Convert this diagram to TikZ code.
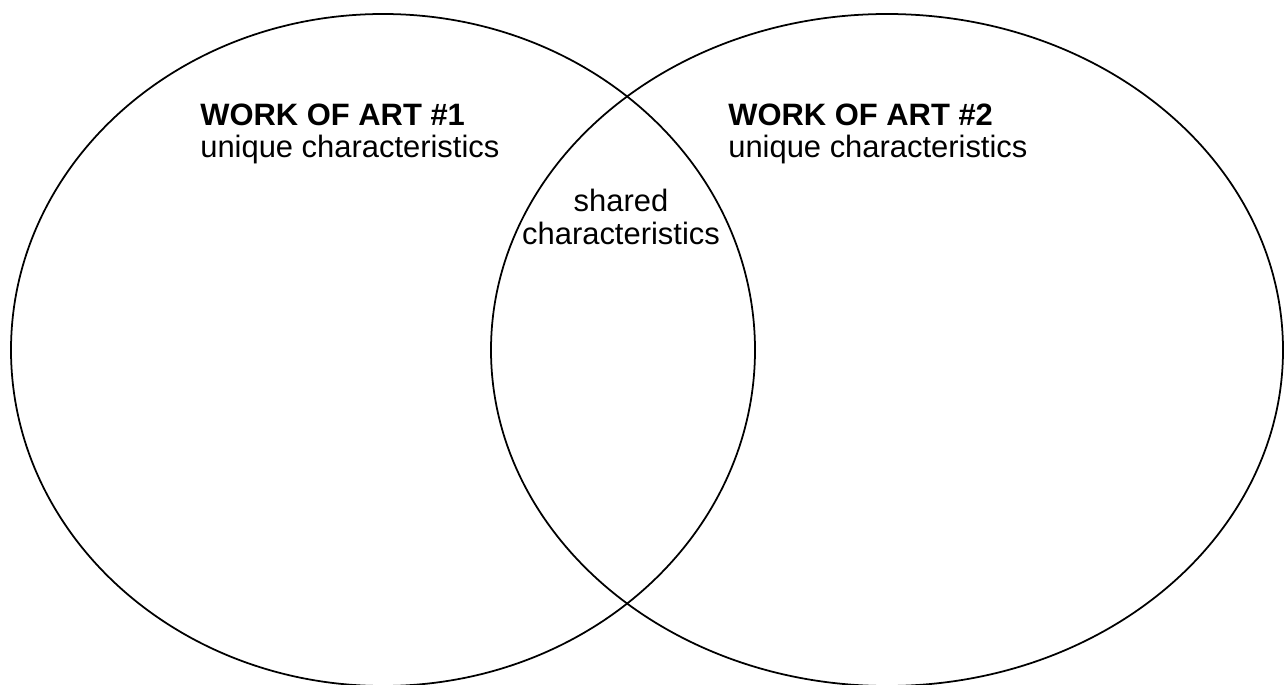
\documentclass[tikz,border=0pt]{standalone}
\usepackage{fontspec}
\setmainfont{Liberation Sans}
\usetikzlibrary{positioning}
\tikzset{
  setline/.style = {line width=1pt},
  head/.style    = {inner sep=0pt, font=\fontsize{17.6}{18.2}\selectfont\bfseries},
  body/.style    = {inner sep=0pt, font=\fontsize{17.6}{18.2}\selectfont},
}

\begin{document}
\begin{tikzpicture}[x=0.02cm,y=0.02cm]
  \useasboundingbox (0,0) rectangle (1285,684);
  % the two sets
  \draw[setline] (383,334) ellipse [x radius=372, y radius=336];
  \draw[setline] (887,334) ellipse [x radius=396, y radius=336];
  % left set
  \node[head, anchor=base west] (art1) at (200,558) {WORK OF ART \#1};
  \node[body, below=0.64cm of art1.base west, anchor=base west] (uniq1) {unique characteristics};
  % right set
  \node[head, anchor=base west] (art2) at (728,558) {WORK OF ART \#2};
  \node[body, below=0.64cm of art2.base west, anchor=base west] (uniq2) {unique characteristics};
  % overlap
  \node[body, anchor=base] (shared) at (621,472) {shared};
  \node[body, below=0.66cm of shared.base, anchor=base] (shchar) {characteristics};
\end{tikzpicture}
\end{document}
